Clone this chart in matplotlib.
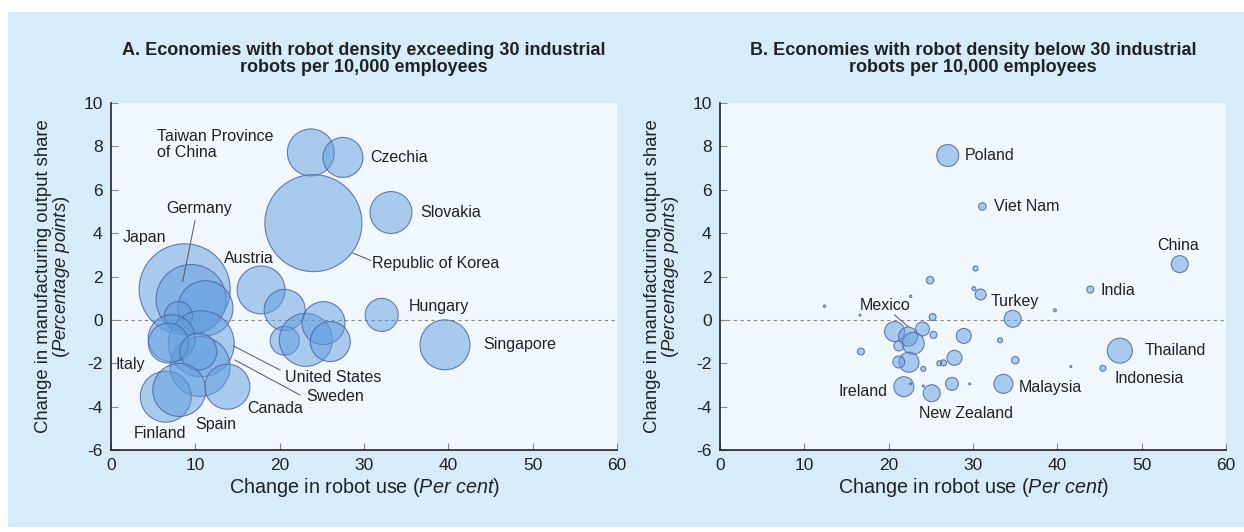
import matplotlib
matplotlib.use("Agg", force=True)
import matplotlib.pyplot as plt
from matplotlib.patches import Rectangle

plt.rcParams["font.family"] = ["Liberation Sans", "DejaVu Sans"]
plt.rcParams["mathtext.fontset"] = "custom"
plt.rcParams["mathtext.rm"] = "Liberation Sans"
plt.rcParams["mathtext.it"] = "Liberation Sans:italic"
plt.rcParams["axes.unicode_minus"] = False

# ---- Panel A: robot density above 30 per 10,000 employees ----
a_x = [23.7, 27.5, 24.0, 33.2, 8.74, 9.5, 11.2, 8.0, 10.7, 10.56, 7.2, 6.8,
       10.36, 6.5, 8.1, 13.8, 17.8, 20.6, 20.6, 23.1, 25.2, 26.0, 32.1, 39.6]
a_y = [7.72, 7.49, 4.46, 4.95, 1.41, 0.94, 0.54, 0.2, -1.1, -2.15, -0.85, -1.07,
       -1.46, -3.54, -3.23, -3.08, 1.38, 0.46, -0.96, -0.92, -0.15, -1.0, 0.23, -1.15]
# bubble size (relative robot stock)
a_stock = [22.1, 16.0, 94.1, 17.6, 82.8, 49.0, 30.3, 7.8, 43.6, 36.0, 22.1, 16.0,
           13.7, 26.0, 28.1, 20.3, 23.0, 16.8, 8.4, 28.1, 18.5, 16.0, 10.9, 25.0]

a_labels = ["Taiwan Province\nof China", "Czechia", "Slovakia", "Republic of Korea",
            "Hungary", "Singapore", "Germany", "Japan", "Austria", "Italy",
            "United States", "Sweden", "Canada", "Spain", "Finland"]
a_lab_x = [5.5, 30.7, 36.65, 31.0, 35.3, 44.1, 10.46, 4.0, 16.3, 0.5,
           20.6, 23.1, 16.2, 9.96, 2.65]
a_lab_y = [8.09, 7.49, 4.95, 2.62, 0.61, -1.15, 5.12, 3.8, 2.85, -2.08,
           -2.65, -3.54, -4.08, -4.82, -5.26]
a_lab_ha = ["left", "left", "left", "left", "left", "left", "center", "center",
            "center", "left", "left", "left", "left", "left", "left"]
a_leaders = [((28.7, 3.08), (30.8, 2.74)),
             ((9.96, 4.57), (8.5, 1.77)),
             ((14.5, -1.2), (20.05, -2.31)),
             ((14.7, -1.85), (22.4, -3.46))]

# ---- Panel B: robot density below 30 per 10,000 employees ----
b_x = [27.0, 31.1, 30.3, 24.9, 30.1, 30.9, 22.6, 12.4, 16.6, 25.2, 34.7, 39.7,
       43.9, 54.5, 20.7, 22.3, 24.0, 25.3, 22.9, 21.2, 16.7, 28.9, 33.2, 22.4,
       21.2, 24.1, 26.0, 26.5, 27.8, 35.0, 41.6, 45.4, 47.4, 21.8, 22.6, 24.1,
       25.1, 27.5, 29.6, 33.6]
b_y = [7.58, 5.23, 2.37, 1.83, 1.44, 1.17, 1.09, 0.63, 0.22, 0.13, 0.05, 0.44,
       1.40, 2.57, -0.54, -0.77, -0.42, -0.69, -1.08, -1.2, -1.46, -0.74, -0.94, -1.95,
       -1.94, -2.26, -2.0, -1.98, -1.75, -1.86, -2.15, -2.23, -1.42, -3.08, -2.94, -3.05,
       -3.38, -2.95, -2.95, -2.95]
b_stock = [4.84, 0.56, 0.25, 0.56, 0.16, 1.21, 0.06, 0.06, 0.04, 0.49, 2.89, 0.09,
           0.49, 2.89, 4.0, 3.61, 1.96, 0.49, 4.84, 1.0, 0.49, 2.25, 0.25, 4.0,
           1.44, 0.25, 0.25, 0.36, 2.25, 0.56, 0.04, 0.36, 6.25, 4.0, 0.04, 0.04,
           2.89, 1.69, 0.04, 3.61]

b_labels = ["Poland", "Viet Nam", "Turkey", "Mexico", "India", "China", "Thailand",
            "Indonesia", "Malaysia", "New Zealand", "Ireland"]
b_lab_x = [29.0, 32.5, 32.05, 19.55, 45.1, 54.35, 50.4, 46.8, 35.45, 23.55, 14.0]
b_lab_y = [7.58, 5.23, 0.85, 0.66, 1.35, 3.43, -1.42, -2.72, -3.11, -4.31, -3.28]
b_lab_ha = ["left", "left", "left", "center", "left", "center", "left", "left",
            "left", "left", "left"]
b_leaders = [((20.7, 0.23), (22.3, -0.31))]

titles = ["A. Economies with robot density exceeding 30 industrial\nrobots per 10,000 employees",
          "B. Economies with robot density below 30 industrial\nrobots per 10,000 employees"]

BG = "#D6ECF9"
PLOT_BG = "#F0F8FE"
FILL = (0.38, 0.62, 0.87, 0.5)
EDGE = (0.33, 0.40, 0.65, 0.85)


def draw_panel(ax, xs, ys, stock, labels, lab_x, lab_y, lab_ha, leaders, title):
    ax.set_facecolor(PLOT_BG)
    ax.axhline(0, color="#888888", lw=0.8, ls=(0, (3, 3)), zorder=1)
    sizes = [v * 100 * 0.72 ** 2 for v in stock]
    ax.scatter(xs, ys, s=sizes, facecolor=FILL, edgecolor=EDGE, linewidth=0.8, zorder=2)
    for (p0, p1) in leaders:
        ax.plot([p0[0], p1[0]], [p0[1], p1[1]], color="#555555", lw=0.7, zorder=3)
    for t, x, y, ha in zip(labels, lab_x, lab_y, lab_ha):
        ax.text(x, y, t, ha=ha, va="center", fontsize=11.5, color="#222222",
                linespacing=1.05, zorder=4)
    ax.set_xlim(0, 60)
    ax.set_ylim(-6, 10)
    ax.set_xticks(range(0, 61, 10))
    ax.set_yticks(range(-6, 11, 2))
    for side in ("top", "right"):
        ax.spines[side].set_visible(False)
    for side in ("left", "bottom"):
        ax.spines[side].set_color("#222222")
        ax.spines[side].set_linewidth(1.2)
    ax.tick_params(direction="in", length=5, color="#888888", labelsize=12.5,
                   labelcolor="#222222", pad=6)
    ax.set_xlabel("Change in robot use ($\\it{Per\\ cent}$)", fontsize=14.2,
                  color="#222222", labelpad=2)
    ax.set_ylabel("Change in manufacturing output share\n($\\it{Percentage\\ points}$)",
                  fontsize=13.3, color="#222222", labelpad=8, linespacing=0.95)
    ax.set_title(title, fontsize=13, fontweight="bold", color="#222222",
                 family=["Liberation Sans Narrow", "Liberation Sans"], pad=22,
                 linespacing=1.0)


fig = plt.figure(figsize=(12.44, 5.32), dpi=100, facecolor="white")
fig.patches.append(Rectangle((0.0064, 0.0094), 0.9936, 0.968, transform=fig.transFigure,
                             facecolor=BG, edgecolor="none", zorder=-10))

ax_a = fig.add_axes([0.0892, 0.1541, 0.4068, 0.6523])
ax_b = fig.add_axes([0.5788, 0.1541, 0.4068, 0.6523])

draw_panel(ax_a, a_x, a_y, a_stock, a_labels, a_lab_x, a_lab_y, a_lab_ha, a_leaders, titles[0])
draw_panel(ax_b, b_x, b_y, b_stock, b_labels, b_lab_x, b_lab_y, b_lab_ha, b_leaders, titles[1])

fig.savefig("out.png", dpi=100, facecolor="white")
